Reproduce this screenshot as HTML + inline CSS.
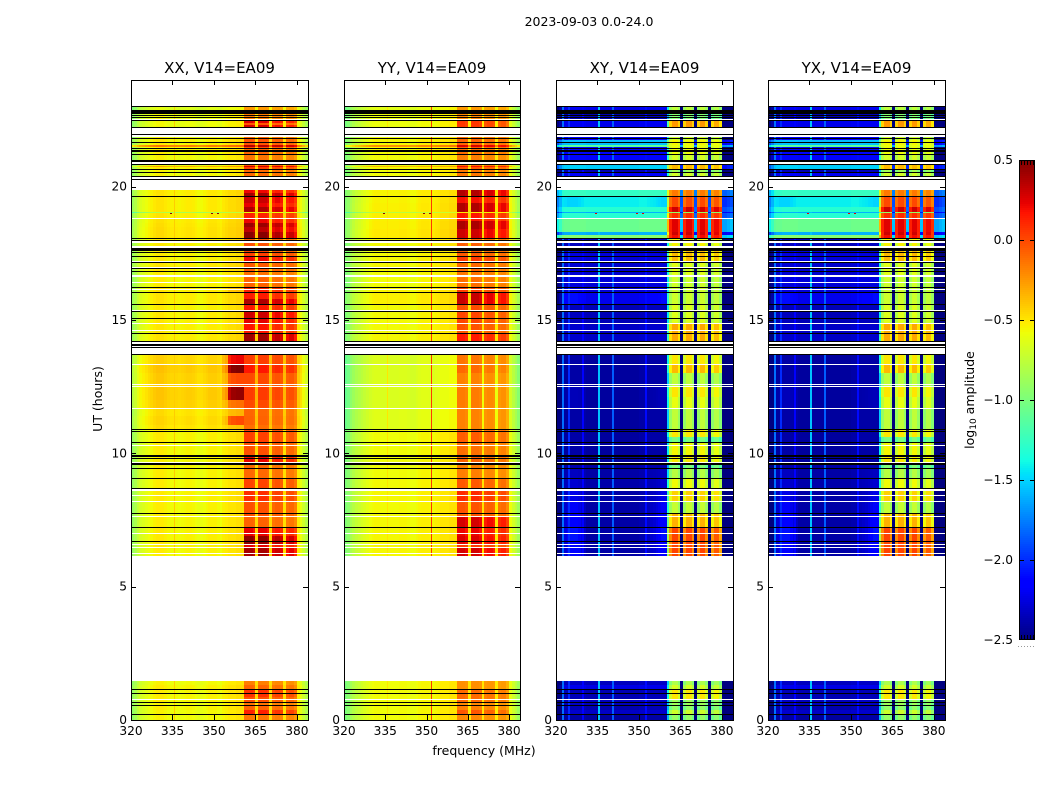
<!DOCTYPE html>
<html lang="en">
<head>
<meta charset="utf-8">
<title>2023-09-03 amplitude waterfall</title>
<style>
html,body{margin:0;padding:0;background:#fff;}
svg{display:block;font-family:"DejaVu Sans","Liberation Sans",sans-serif;fill:#000;}
</style>
</head>
<body>
<svg id="chart" width="1050" height="800" viewBox="0 0 1050 800" xmlns="http://www.w3.org/2000/svg">
<rect x="0" y="0" width="1050" height="800" fill="#fff"/>
<text x="589" y="26" text-anchor="middle" font-size="12.5">2023-09-03 0.0-24.0</text>
<text x="484" y="755" text-anchor="middle" font-size="12.5">frequency (MHz)</text>
<text transform="translate(102,399) rotate(-90)" text-anchor="middle" font-size="12.5">UT (hours)</text>
<text transform="translate(974,400) rotate(-90)" text-anchor="middle" font-size="12.5">log<tspan font-size="9" dy="2">10</tspan><tspan dy="-2"> amplitude</tspan></text>
<g id="panels"></g>
<g id="colorbar"></g>
</svg>
<script>
const channelsMHz = [320,321,322,323,324,325,326,327,328,329,330,331,332,333,334,335,336,337,338,339,340,341,342,343,344,345,346,347,348,349,350,351,352,353,354,355,356,357,358,359,360,361,362,363,364,365,366,367,368,369,370,371,372,373,374,375,376,377,378,379,380,381,382,383];

const xxBase = [-0.92,-0.85,-0.76,-0.70,-0.67,-0.64,-0.61,-0.59,-0.56,-0.54,-0.54,-0.54,-0.56,-0.58,-0.59,-0.59,-0.59,-0.60,-0.59,-0.58,-0.57,-0.57,-0.58,-0.60,-0.62,-0.62,-0.60,-0.58,-0.56,-0.56,-0.56,-0.58,-0.60,-0.56,-0.54,-0.52,-0.52,-0.52,-0.50,-0.50,-0.50,-0.42,-0.42,-0.42,-0.42,-0.48,-0.42,-0.42,-0.42,-0.42,-0.48,-0.42,-0.42,-0.42,-0.42,-0.50,-0.42,-0.42,-0.42,-0.46,-0.55,-0.62,-0.72,-0.82];
const yyBase = [-1.00,-0.95,-0.86,-0.80,-0.75,-0.72,-0.69,-0.66,-0.63,-0.60,-0.58,-0.57,-0.57,-0.58,-0.58,-0.58,-0.58,-0.58,-0.58,-0.58,-0.57,-0.57,-0.57,-0.58,-0.60,-0.60,-0.58,-0.56,-0.55,-0.55,-0.55,-0.56,-0.57,-0.55,-0.54,-0.52,-0.52,-0.52,-0.50,-0.50,-0.50,-0.42,-0.42,-0.42,-0.42,-0.50,-0.42,-0.42,-0.42,-0.42,-0.50,-0.42,-0.42,-0.42,-0.42,-0.52,-0.42,-0.42,-0.42,-0.48,-0.60,-0.70,-0.78,-0.88];
const crossBase = [-2.75,-2.6,-2.45,-2.42,-2.42,-2.4,-2.4,-2.4,-2.4,-2.4,-2.4,-2.42,-2.42,-2.42,-2.42,-2.42,-2.42,-2.42,-2.42,-2.42,-2.42,-2.42,-2.42,-2.42,-2.42,-2.42,-2.42,-2.42,-2.42,-2.42,-2.4,-2.4,-2.4,-2.4,-2.4,-2.4,-2.4,-2.4,-2.4,-2.4,-2.3,-2.3,-2.3,-2.3,-2.3,-2.9,-2.3,-2.3,-2.3,-2.3,-2.9,-2.3,-2.3,-2.3,-2.3,-2.9,-2.3,-2.3,-2.3,-2.3,-3.0,-3.0,-2.95,-2.9];

const xxLines = [-9,-9,-9,-9,-9,-9,-9,-9,-9,-9,-9,-9,-9,-9,-9,-0.42,-9,-9,-9,-9,-9,-9,-9,-9,-9,-9,-9,-9,-9,-9,-9,-9,-9,-9,-9,-9,-9,-9,-9,-9,-9,-9,-9,-9,-9,-9,-9,-9,-9,-9,-9,-9,-9,-9,-9,-9,-9,-9,-9,-9,-9,-9,-9,-9];
const yyLines = [-9,-9,-9,-9,-9,-9,-9,-9,-9,-9,-9,-9,-9,-9,-9,-0.5,-9,-9,-9,-9,-9,-9,-9,-9,-9,-9,-9,-9,-9,-9,-9,0.05,-9,-9,-9,-9,-9,-9,-9,-9,-9,-9,-9,-9,-9,-9,-9,-9,-9,-9,-9,-9,-9,-9,-9,-9,-9,-9,-9,-9,-9,-9,-9,-9];
const crossLines = [-9,-9,-1.8,-9,-2.0,-9,-9,-9,-9,-2.15,-9,-9,-9,-9,-9,-1.55,-9,-9,-9,-9,-1.85,-9,-9,-9,-9,-9,-9,-9,-9,-9,-9,-9,-2.1,-9,-9,-9,-9,-9,-9,-9,-9,-9,-9,-9,-9,-9,-9,-9,-9,-9,-9,-9,-9,-9,-9,-9,-9,-9,-9,-9,-9,-9,-9,-9];

const parallelBlockShape = [0,0,0,0,0,0,0,0,0,0,0,0,0,0,0,0,0,0,0,0,0,0,0,0,0,0,0,0,0,0,0,0,0,0,0,0,0,0,0,0,0,1,1,1,0.92,0,1,1,1,0.92,0,0.8,0.88,0.88,0.8,0,0.72,0.8,0.8,0.7,0,0,0,0];
const crossBlockShape = [0,0,0,0,0,0,0,0,0,0,0,0,0,0,0,0,0,0,0,0,0,0,0,0,0,0,0,0,0,0,0,0,0,0,0,0,0,0,0,0,0.5,0.9,1,1,0.9,0,0.9,1,1,0.9,0,0.9,1,1,0.9,0,0.88,0.97,0.97,0.86,0,0,0,0];
const parallelRfiShape = [0,0,0,0,0,0,0,0,0,0,0,0,0,0,0,0,0,0,0,0,0,0,0,0,0,0,0,0,0,0,0,0,0,0.1,0.15,0.7,0.8,0.8,0.8,0.8,0.8,0,0,0,0,0,0,0,0,0,0,0,0,0,0,0,0,0,0,0,0,0,0,0];
const crossWingShape = [0,0,0,0.5,0.8,1,1,1,0.8,0.5,0.2,0,0,0,0,0,0,0,0,0,0,0,0,0,0,0,0,0,0,0,0,0,0,0.2,0.3,0.4,0.6,0.8,1,1,1,0,0,0,0,0,0,0,0,0,0,0,0,0,0,0,0,0,0,0,0,0,0,0];

/* utStart, utEnd, background offset, block gain, rfi or wing gain */
const xxSegments = [[0,0.21,0,0.28,0],[0.21,0.38,0,0.55,0],[0.38,0.53,0.02,0.32,0],[0.53,0.66,0,0.28,0],[0.66,0.85,0.02,0.38,0],[0.85,1.13,0.02,0.48,0],[1.13,1.3,0.03,0.3,0],[1.3,1.46,0,0.25,0],
[6.15,6.45,0.02,0.8,0],[6.45,6.6,0.03,0.62,0],[6.6,6.9,0.03,0.85,0],[6.9,7.2,0.03,0.62,0],[7.2,7.62,0.02,0.32,0],[7.62,8.18,0.02,0.38,0],[8.18,8.6,0.03,0.48,0],[8.6,9.05,0.02,0.42,0],[9.05,9.6,0.02,0.3,0],[9.6,9.93,0.02,0.62,0],[9.93,10.4,0.02,0.38,0],[10.4,10.88,0.03,0.42,0],
[10.88,11.05,0.08,0.22,0.05],[11.05,11.4,0.1,0.24,0.5],[11.4,11.68,0.08,0.25,0.1],[11.68,12,0.14,0.28,0.3],[12,12.48,0.15,0.32,1],[12.48,12.52,0.4,0.25,0.6],[12.52,13,0.14,0.28,0.45],[13,13.32,0.16,0.42,1.05],[13.32,13.73,0.12,0.34,0.75],
[13.73,14.19,0.03,0.45,0],[14.19,14.5,0.05,0.8,0],[14.5,14.85,0.04,0.55,0],[14.85,15.08,0.04,0.62,0],[15.08,15.33,0.04,0.68,0],[15.33,15.58,0.03,0.55,0],[15.58,15.8,0.05,0.75,0],[15.8,16.05,0.05,0.52,0],[16.05,16.23,0.05,0.5,0.1],[16.23,16.62,0.02,0.32,0],[16.62,16.85,0.02,0.28,0],[16.85,17.18,0.05,0.32,0],[17.18,17.4,0.03,0.6,0],[17.4,17.7,0.03,0.42,0],[17.7,18.03,0.03,0.36,0],
[18.03,18.3,0.08,0.82,0],[18.3,18.5,0.08,0.68,0],[18.5,18.65,0.07,0.78,0],[18.65,18.8,0.06,0.58,0],[18.8,19,0.05,0.5,0],[19,19.04,-0.25,0.1,0],[19.04,19.25,0.05,0.75,0],[19.25,19.4,0.05,0.6,0],[19.4,19.65,0.05,0.68,0],[19.65,19.78,0.05,0.78,0],[19.78,19.88,0.05,0.58,0],
[20.24,20.4,0.03,0.65,0],[20.4,20.63,0,0.32,0],[20.63,20.72,0.03,0.42,0],[20.72,20.77,0.25,0.45,0],[20.77,20.94,-0.02,0.38,0],[20.94,21.2,0,0.28,0],[21.2,21.42,0.02,0.32,0],[21.42,21.5,0.03,0.38,0],[21.5,21.57,0.4,0.38,0],[21.57,21.8,0.03,0.36,0],[21.8,22.19,0,0.32,0],[22.19,22.3,-0.02,0.72,0],[22.3,22.38,-0.02,0.4,0],[22.38,22.47,-0.02,0.7,0],[22.47,22.74,-0.02,0.28,0],[22.74,23.03,-0.07,0.24,0]];

const yySegments = [[0,0.21,0,0.22,0],[0.21,0.38,0,0.38,0],[0.38,0.53,0,0.25,0],[0.53,0.66,0,0.22,0],[0.66,1.13,0,0.32,0],[1.13,1.46,0,0.2,0],
[6.15,6.45,0.02,0.68,0],[6.45,6.6,0.02,0.46,0],[6.6,6.9,0.02,0.66,0],[6.9,7.2,0.02,0.62,0],[7.2,7.62,0.02,0.68,0],[7.62,8.18,0.01,0.38,0],[8.18,8.6,0.02,0.5,0],[8.6,9.05,0.01,0.36,0],[9.05,9.6,0,0.25,0],[9.6,9.93,0,0.35,0],[9.93,10.4,0,0.3,0],[10.4,10.88,0,0.36,0],
[10.88,11.68,-0.06,0.3,0],[11.68,12.5,-0.08,0.34,0],[12.5,13,-0.08,0.32,0],[13,13.32,-0.08,0.4,0],[13.32,13.73,-0.08,0.36,0],
[13.73,14.19,0,0.35,0],[14.19,14.5,0.02,0.56,0],[14.5,14.85,0.01,0.38,0],[14.85,15.33,0.01,0.42,0],[15.33,15.58,0.01,0.4,0],[15.58,16.05,0.04,0.7,0],[16.05,16.23,0.03,0.42,0],[16.23,16.62,0,0.3,0],[16.62,16.85,0,0.28,0],[16.85,17.18,0.02,0.3,0],[17.18,17.4,0.02,0.46,0],[17.4,17.7,0.01,0.36,0],[17.7,18.03,0.01,0.34,0],
[18.03,18.4,0.06,0.66,0],[18.4,18.7,0.05,0.76,0],[18.7,19,0.04,0.55,0],[19,19.04,-0.2,0.1,0],[19.04,19.4,0.04,0.76,0],[19.4,19.65,0.03,0.58,0],[19.65,19.88,0.03,0.76,0],
[20.24,20.4,0.02,0.55,0],[20.4,20.63,0,0.28,0],[20.63,20.72,0.02,0.35,0],[20.72,20.77,0.22,0.38,0],[20.77,20.94,-0.02,0.3,0],[20.94,21.2,0,0.25,0],[21.2,21.42,0.01,0.3,0],[21.42,21.5,0.02,0.34,0],[21.5,21.57,0.35,0.34,0],[21.57,21.8,0.02,0.32,0],[21.8,22.19,0,0.3,0],[22.19,22.47,-0.02,0.5,0],[22.47,22.74,-0.02,0.25,0],[22.74,23.03,-0.05,0.22,0]];

const crossSegments = [[0,0.21,0,1.4,0],[0.21,0.38,0.1,1.5,0],[0.38,0.53,0.04,1.35,0],[0.53,0.75,0.08,1.35,0],[0.75,1.13,0.05,1.75,0],[1.13,1.3,0.18,1.45,0],[1.3,1.46,0.08,1.4,0],
[6.15,6.7,0.02,2.3,0.25],[6.7,7.2,0.02,2.3,0.3],[7.2,7.72,0.02,1.95,0.25],[7.72,8.18,0.02,1.55,0.2],[8.18,8.6,0.02,1.85,0.15],[8.6,9.05,0.03,1.7,0.08],[9.05,9.42,0.02,1.5,0.05],[9.42,9.66,0.02,1.3,0],[9.66,9.95,0,1.8,0],[9.95,10.38,0,1.75,0],[10.38,10.6,0,1.3,0],[10.6,10.88,0,1.8,0],
[10.88,11.68,0,1.55,0],[11.68,12.1,0,1.7,0.05],[12.1,12.52,0,1.8,0.05],[12.52,13,0,1.55,0],[13,13.32,0,1.95,0],[13.32,13.73,0,1.8,0],
[13.73,14.19,0,1.9,0],[14.19,14.85,0.1,1.9,0],[14.85,15.58,0.06,1.6,0],[15.58,16.05,0.2,1.4,0.1],[16.05,16.62,0.15,1.45,0],[16.62,17.18,0.12,1.55,0],[17.18,17.7,0.15,1.8,0],[17.7,18.03,0.06,1.7,0],
[18.03,18.2,1.45,1.05,0],[18.2,18.3,0.8,1.8,0],[18.3,18.8,1.35,1.2,0],[18.8,19,1.1,1.3,0],[19,19.04,0.8,0.6,0],[19.04,19.25,1.1,1.5,0],[19.25,19.6,1.0,1.3,-0.1],[19.6,19.88,1.15,1.0,0],
[20.24,20.37,0.1,1.6,0],[20.37,20.53,0.22,1.4,0],[20.53,20.63,0.05,1.4,0],[20.63,20.86,0.9,1.05,0],[20.86,20.93,0.1,1.5,0],[20.93,21.2,0.28,1.35,0],[21.2,21.5,0.28,1.45,0],[21.5,21.58,1.3,0.4,0],[21.58,21.75,0.85,0.9,0],[21.75,21.93,0.28,1.35,0],[21.93,22.19,0.1,1.4,0],[22.19,22.47,0.2,1.85,0],[22.47,22.74,0.05,1.3,0],[22.74,22.86,0,1.3,0],[22.86,23.03,0.2,1.35,0]];

const flaggedBlackRows = [[22.99,23.03],[22.74,22.86],[22.66,22.69],[22.58,22.61],[22.47,22.5],[22.19,22.22],[21.93,21.96],[21.8,21.83],[21.65,21.68],[21.42,21.46],[21.29,21.36],[21.19,21.21],[20.94,20.99],[20.83,20.86],[20.63,20.66],[20.53,20.56],[20.37,20.4],[20.24,20.28],[19.62,19.65],[18.03,18.06],[17.97,18],[17.64,17.71],[17.59,17.61],[17.51,17.54],[17.37,17.4],[17.15,17.18],[16.91,16.94],[16.83,16.85],[16.2,16.23],[16.02,16.05],[15.56,15.59],[15.3,15.33],[15.05,15.08],[14.49,14.51],[14.19,14.21],[14.04,14.09],[13.94,13.98],[13.7,13.73],[10.875,10.9],[10.83,10.85],[10.38,10.43],[9.88,9.93],[9.8,9.84],[9.57,9.63],[9.42,9.45],[9.05,9.08],[8.67,8.7],[7.72,7.75],[7.2,7.23],[6.67,6.7],[1.13,1.16],[0.975,1],[0.63,0.66],[0.53,0.56],[0.19,0.21]];
const flaggedWhiteRows = [[23.03,24],[22.51,22.55],[21.98,22.19],[21.86,21.93],[20.86,20.94],[20.28,20.37],[19.88,20.24],[18.78,18.81],[17.89,17.95],[17.71,17.77],[17.2,17.22],[16.98,17],[16.62,16.68],[16.37,16.41],[16.13,16.16],[15.35,15.375],[14.84,14.88],[14.59,14.63],[14.1,14.16],[13.98,14.04],[13.73,13.94],[13.31,13.34],[12.56,12.6],[12.51,12.54],[11.66,11.69],[10.29,10.31],[9.63,9.66],[8.6,8.66],[8.41,8.44],[8.18,8.2],[7.62,7.65],[6.98,7],[6.56,6.59],[6.45,6.48],[6.23,6.25],[1.46,6.15],[0.75,0.78]];

const spikeFrequencies = [334,348.8,351];
const spikeTime = 19.02;

const panelTitles = ['XX, V14=EA09','YY, V14=EA09','XY, V14=EA09','YX, V14=EA09'];
const panelKeys = ['xx','yy','xy','yx'];
const panelBases = [xxBase,yyBase,crossBase,crossBase];
const panelLines = [xxLines,yyLines,crossLines,crossLines];
const panelBlocks = [parallelBlockShape,parallelBlockShape,crossBlockShape,crossBlockShape];
const panelExtras = [parallelRfiShape,parallelRfiShape,crossWingShape,crossWingShape];
const panelSegments = [xxSegments,yySegments,crossSegments,crossSegments];
const freqTicks = [320,335,350,365,380];
const utTicks = [0,5,10,15,20];
const colorbarTicks = [0.5,0,-0.5,-1,-1.5,-2,-2.5];

const NS = 'http://www.w3.org/2000/svg';
const panelLefts = [131,344,556,768];
const panelSpans = [177,176,177,177];
const panelTop = 80, panelBottom = 720;
const freqMin = 320, freqMax = 384, utMin = 0, utMax = 24, vMin = -2.5, vMax = 0.5;

function xScale(p, f){ return panelLefts[p] + (f - freqMin) / (freqMax - freqMin) * panelSpans[p]; }
function yScale(t){ return panelBottom - (t - utMin) / (utMax - utMin) * (panelBottom - panelTop); }
function interp(t, xs, ys){
  for (let i = 1; i < xs.length; i++) {
    if (t <= xs[i]) return ys[i-1] + (ys[i]-ys[i-1]) * (t-xs[i-1]) / (xs[i]-xs[i-1]);
  }
  return ys[ys.length-1];
}
function jet(v){
  const t = Math.max(0, Math.min(1, (v - vMin) / (vMax - vMin)));
  const r = interp(t,[0,0.35,0.66,0.89,1],[0,0,1,1,0.5]);
  const g = interp(t,[0,0.125,0.375,0.64,0.91,1],[0,0,1,1,0,0]);
  const b = interp(t,[0,0.11,0.34,0.65,1],[0.5,1,1,0,0]);
  return 'rgb(' + Math.round(r*255) + ',' + Math.round(g*255) + ',' + Math.round(b*255) + ')';
}
function make(parent, tag, attrs){
  const el = document.createElementNS(NS, tag);
  for (const k in attrs) el.setAttribute(k, attrs[k]);
  parent.appendChild(el);
  return el;
}

const panelsRoot = document.getElementById('panels');

panelKeys.forEach(function(key, p){
  const left = panelLefts[p];
  const span = panelSpans[p];
  const right = left + span;
  const lineWidth = p < 2 ? 1 : 2;
  const g = make(panelsRoot, 'g', {'shape-rendering':'crispEdges'});
  
  

  panelSegments[p].forEach(function(seg){
    const y0 = Math.round(yScale(seg[1]));
    const y1 = Math.round(yScale(seg[0]));
    channelsMHz.forEach(function(f, c){
      const x0 = Math.round(xScale(p, f));
      const x1 = Math.round(xScale(p, f + 1));
      const floorValue = panelBases[p][c] + seg[2];
      const value = floorValue + seg[3] * panelBlocks[p][c] + seg[4] * panelExtras[p][c];
      const cell = make(g, 'rect', {x:x0, y:y0, width:x1-x0, height:Math.max(1,y1-y0), fill:jet(value)});
      
      
      if (panelLines[p][c] > floorValue) {
        const stripe = make(g, 'rect', {x:x1-lineWidth, y:y0, width:lineWidth, height:Math.max(1,y1-y0), fill:jet(panelLines[p][c])});
        
        
      }
    });
  });

  spikeFrequencies.forEach(function(f){
    const spike = make(g, 'rect', {x:Math.round(xScale(p, f)), y:Math.round(yScale(spikeTime)), width:2, height:1, fill:p < 2 ? '#8b0000' : '#e00000'});
    
    
  });

  flaggedWhiteRows.forEach(function(r){
    const y0 = Math.round(yScale(r[1]));
    const y1 = Math.round(yScale(r[0]));
    const row = make(g, 'rect', {x:left, y:y0, width:span, height:Math.max(1,y1-y0), fill:'#fff'});
    
    
  });
  flaggedBlackRows.forEach(function(r){
    const y0 = Math.round(yScale(r[1]));
    const y1 = Math.round(yScale(r[0]));
    const row = make(g, 'rect', {x:left, y:y0, width:span, height:Math.max(1,y1-y0), fill:'#000'});
    
    
  });

  const frame = make(g, 'rect', {x:left+0.5, y:panelTop+0.5, width:span, height:panelBottom-panelTop, fill:'none', stroke:'#000', 'stroke-width':1});
  
  

  freqTicks.forEach(function(f){
    const x = Math.round(xScale(p, f)) + 0.5;
    const t1 = make(g, 'line', {x1:x, x2:x, y1:panelBottom, y2:panelBottom-5, stroke:'#000', 'stroke-width':1});
    
    
    const t2 = make(g, 'line', {x1:x, x2:x, y1:panelTop, y2:panelTop+5, stroke:'#000', 'stroke-width':1});
    
    
    const lab = make(g, 'text', {x:xScale(p, f), y:735, 'text-anchor':'middle', 'font-size':12.2});
    lab.textContent = String(f);
    
    
  });
  utTicks.forEach(function(t){
    const y = Math.round(yScale(t)) + 0.5;
    const t1 = make(g, 'line', {x1:left, x2:left+5, y1:y, y2:y, stroke:'#000', 'stroke-width':1});
    
    
    const t2 = make(g, 'line', {x1:right, x2:right-5, y1:y, y2:y, stroke:'#000', 'stroke-width':1});
    
    
    const lab = make(g, 'text', {x:left-4, y:yScale(t)+4, 'text-anchor':'end', 'font-size':12.2});
    lab.textContent = String(t);
    
    
  });
  const title = make(g, 'text', {x:left+span/2, y:73, 'text-anchor':'middle', 'font-size':15});
  title.textContent = panelTitles[p];
  
  
});

const cb = document.getElementById('colorbar');
const cbLeft = 1019, cbRight = 1035, cbTop = 160, cbBottom = 640;
function cbY(v){ return cbBottom - (v - vMin) / (vMax - vMin) * (cbBottom - cbTop); }
for (let py = cbTop; py < cbBottom; py += 2) {
  const v = vMax - (py + 1 - cbTop) / (cbBottom - cbTop) * (vMax - vMin);
  const swatch = make(cb, 'rect', {x:cbLeft, y:py, width:cbRight-cbLeft, height:2, fill:jet(v), 'shape-rendering':'crispEdges'});
  
  
}
const cbFrame = make(cb, 'rect', {x:cbLeft+0.5, y:cbTop+0.5, width:cbRight-cbLeft-1, height:cbBottom-cbTop-1, fill:'none', stroke:'#000', 'stroke-width':1, 'shape-rendering':'crispEdges'});


colorbarTicks.forEach(function(v){
  const y = Math.min(cbBottom-1, Math.round(cbY(v))) + 0.5;
  const a = make(cb, 'line', {x1:cbLeft, x2:cbLeft+5, y1:y, y2:y, stroke:'#000', 'stroke-width':1, 'shape-rendering':'crispEdges'});
  
  
  const b = make(cb, 'line', {x1:cbRight, x2:cbRight-5, y1:y, y2:y, stroke:'#000', 'stroke-width':1, 'shape-rendering':'crispEdges'});
  
  
  const lab = make(cb, 'text', {x:1013, y:cbY(v)+4, 'text-anchor':'end', 'font-size':12.2});
  lab.textContent = (v < 0 ? '\u2212' : '') + Math.abs(v).toFixed(1);
  
  
});
for (let i = 0; i < 5; i++) {
  const x = cbLeft + 2.5 + i * 3;
  const a = make(cb, 'line', {x1:x, x2:x, y1:cbTop, y2:cbTop+5, stroke:'#000', 'stroke-width':1, 'shape-rendering':'crispEdges'});
  
  
  const b = make(cb, 'line', {x1:x, x2:x, y1:cbBottom, y2:cbBottom-5, stroke:'#000', 'stroke-width':1, 'shape-rendering':'crispEdges'});
  
  
}
for (let i = 0; i < 6; i++) {
  const dot = make(cb, 'rect', {x:1018 + i * 3, y:646, width:1, height:1, fill:'#999', 'shape-rendering':'crispEdges'});
  
  
}
</script>
</body>
</html>
